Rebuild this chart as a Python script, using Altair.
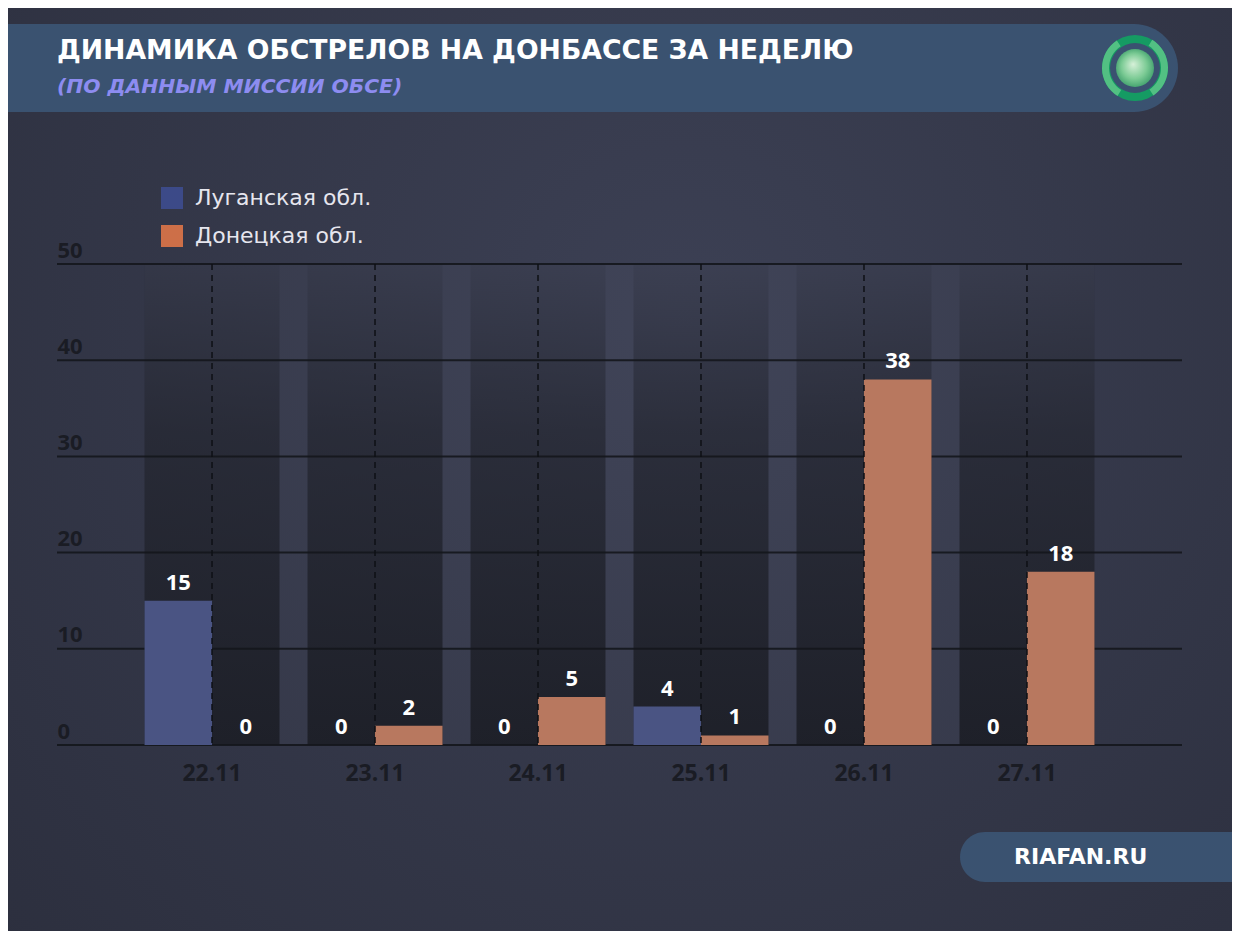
import altair as alt
import pandas as pd

# ---------------- data ----------------
dates = ["22.11", "23.11", "24.11", "25.11", "26.11", "27.11"]
lugansk = [15, 0, 0, 4, 0, 0]
donetsk = [0, 2, 5, 1, 38, 18]
series_names = ["Луганская обл.", "Донецкая обл."]
y_ticks = [0, 10, 20, 30, 40, 50]
y_max = 50

title_text = "ДИНАМИКА ОБСТРЕЛОВ НА ДОНБАССЕ ЗА НЕДЕЛЮ"
subtitle_text = "(ПО ДАННЫМ МИССИИ ОБСЕ)"
badge_text = "RIAFAN.RU"

rows = []
for d, l, dn in zip(dates, lugansk, donetsk):
    rows.append({"date": d, "series": series_names[0], "value": l})
    rows.append({"date": d, "series": series_names[1], "value": dn})
df = pd.DataFrame(rows)
dates_df = pd.DataFrame({"date": dates, "top": [y_max] * len(dates)})
ticks_df = pd.DataFrame({"tick": y_ticks})
one = pd.DataFrame({"k": [0]})

# ---------------- layout ----------------
W, H = 1125, 481
PAD = {"left": 49, "top": 256, "right": 50, "bottom": 186}

HEAD_FONT = "DejaVu Sans"
NUM_FONT = "Open Sans"
AXIS_COLOR = "#1a1c24"

x_scale = alt.Scale(domain=dates, paddingInner=0.1718, paddingOuter=0.537)
y_scale = alt.Scale(domain=[0, y_max], nice=False, zero=True)

x_axis = alt.Axis(
    title=None, domain=False, ticks=False, tickSize=0, grid=False,
    labelFont=NUM_FONT, labelFontWeight="bold", labelFontSize=23,
    labelColor=AXIS_COLOR, labelPadding=17, labelAngle=0, zindex=1,
)
y_axis = alt.Axis(
    title=None, values=y_ticks, domain=False, ticks=False, tickSize=0,
    labelAlign="left", labelBaseline="alphabetic", labelPadding=0,
    labelOffset=-7, labelFlush=False, labelOverlap=False, labelBound=False,
    labelFont=NUM_FONT, labelFontWeight="bold", labelFontSize=22,
    labelColor=AXIS_COLOR, grid=False, zindex=1,
)

X = alt.X("date:N", scale=x_scale, axis=x_axis, sort=dates)
Yv = alt.Y("value:Q", scale=y_scale, axis=y_axis)
Yt = alt.Y("top:Q", scale=y_scale, axis=y_axis)
Yg = alt.Y("tick:Q", scale=y_scale, axis=y_axis)

# ---------------- decorations ----------------
bg = alt.Chart(one).mark_rect(
    fill=alt.RadialGradient(
        gradient="radial", x1=0.55, y1=0.38, r1=0.0, x2=0.55, y2=0.38, r2=0.75,
        stops=[alt.GradientStop(color="#3c4054", offset=0),
               alt.GradientStop(color="#2c2f3e", offset=1)],
    )
).encode(x=alt.value(-60), x2=alt.value(1190), y=alt.value(-270), y2=alt.value(680))

banner = alt.Chart(one).mark_rect(fill="#3a5270", cornerRadius=44).encode(
    x=alt.value(-120), x2=alt.value(1121), y=alt.value(-240), y2=alt.value(-152)
)

title = alt.Chart(one).mark_text(
    font=HEAD_FONT, fontWeight="bold", fontSize=26.7, color="#ffffff",
    align="left", baseline="alphabetic",
).encode(x=alt.value(0), y=alt.value(-205), text=alt.value(title_text))

subtitle = alt.Chart(one).mark_text(
    font=HEAD_FONT, fontWeight="bold", fontStyle="italic", fontSize=20.3,
    color="#8d8cf0", align="left", baseline="alphabetic",
).encode(x=alt.value(0), y=alt.value(-171), text=alt.value(subtitle_text))

LX, LY = 1078, -196
logo_ring = alt.Chart(one).mark_arc(
    radius=33, radius2=25, theta=0, theta2=6.2832, color="#159b63"
).encode(x=alt.value(LX), y=alt.value(LY))
logo_arc_r = alt.Chart(one).mark_arc(
    radius=33, radius2=26, theta=0.55, theta2=2.55, color="#52c083"
).encode(x=alt.value(LX), y=alt.value(LY))
logo_arc_l = alt.Chart(one).mark_arc(
    radius=33, radius2=26, theta=3.7, theta2=5.7, color="#52c083"
).encode(x=alt.value(LX), y=alt.value(LY))
logo_globe = alt.Chart(one).mark_arc(
    radius=19, theta=0, theta2=6.2832,
    fill=alt.RadialGradient(
        gradient="radial", x1=0.45, y1=0.4, r1=0, x2=0.5, y2=0.5, r2=0.6,
        stops=[alt.GradientStop(color="#d6f0d8", offset=0),
               alt.GradientStop(color="#7ccb95", offset=0.55),
               alt.GradientStop(color="#2f9461", offset=1)],
    ),
).encode(x=alt.value(LX), y=alt.value(LY))

badge = alt.Chart(one).mark_rect(fill="#3a5270", cornerRadius=25).encode(
    x=alt.value(903), x2=alt.value(1260), y=alt.value(568), y2=alt.value(618)
)
badge_label = alt.Chart(one).mark_text(
    font=HEAD_FONT, fontWeight="bold", fontSize=22, color="#ffffff",
    align="left", baseline="alphabetic",
).encode(x=alt.value(957), y=alt.value(600), text=alt.value(badge_text))

light_zone = alt.Chart(one).mark_rect(fill="#ffffff", opacity=0.025).encode(
    x=alt.value(88), x2=alt.value(1037), y=alt.value(0), y2=alt.value(H)
)

# ---------------- chart marks ----------------
columns = alt.Chart(dates_df).mark_bar(
    color=alt.LinearGradient(
        gradient="linear", x1=0, y1=0, x2=0, y2=1,
        stops=[alt.GradientStop(color="rgba(28,30,38,0.1)", offset=0),
               alt.GradientStop(color="rgba(28,30,38,0.55)", offset=0.35),
               alt.GradientStop(color="rgba(28,30,38,0.92)", offset=1)],
    )
).encode(x=X, y=Yt)

gridlines = alt.Chart(ticks_df).mark_rule(color="#14161c", strokeWidth=2, opacity=0.9).encode(
    y=Yg, x=alt.value(0), x2=alt.value(W)
)

OFF = alt.XOffset("series:N", sort=series_names,
                  scale=alt.Scale(domain=series_names, paddingInner=0, paddingOuter=0))

bars = alt.Chart(df).mark_bar().encode(
    x=X, xOffset=OFF, y=Yv,
    color=alt.Color("series:N", sort=series_names,
                    scale=alt.Scale(domain=series_names, range=["#4a5483", "#b8785f"]),
                    legend=None),
)

rules = alt.Chart(dates_df).mark_rule(
    color="#0e1015", strokeWidth=1.5, strokeDash=[6, 5]
).encode(x=X, y=alt.value(0), y2=alt.value(H))

labels = alt.Chart(df).mark_text(
    font=NUM_FONT, fontWeight="bold", fontSize=22, color="#ffffff",
    baseline="alphabetic", dy=-11,
).encode(x=X, xOffset=OFF, y=Yv, text=alt.Text("value:Q"))

legend_layer = alt.Chart(df).transform_filter("false").mark_square(size=484, opacity=1).encode(
    color=alt.Color(
        "series:N", sort=series_names,
        scale=alt.Scale(domain=series_names, range=["#3c4a88", "#cd6f48"]),
        legend=alt.Legend(
            title=None, orient="none", legendX=104, legendY=-77,
            symbolType="square", symbolSize=484, symbolStrokeWidth=0,
            symbolOpacity=1, labelFont=HEAD_FONT, labelFontSize=22,
            labelColor="#e6e6ee", labelOffset=12, rowPadding=16, padding=0,
            labelLimit=400,
        ),
    )
)

chart = alt.layer(
    bg, banner, title, subtitle, logo_ring, logo_arc_r, logo_arc_l, logo_globe,
    badge, badge_label, light_zone, columns, gridlines, bars, rules, labels, legend_layer,
).resolve_scale(color="independent").properties(
    width=W, height=H, padding=PAD, background="#2f3343",
    autosize=alt.AutoSizeParams(type="none"),
).configure_view(stroke=None)

chart.save("out.html", embed_options={"renderer": "svg", "actions": False})
